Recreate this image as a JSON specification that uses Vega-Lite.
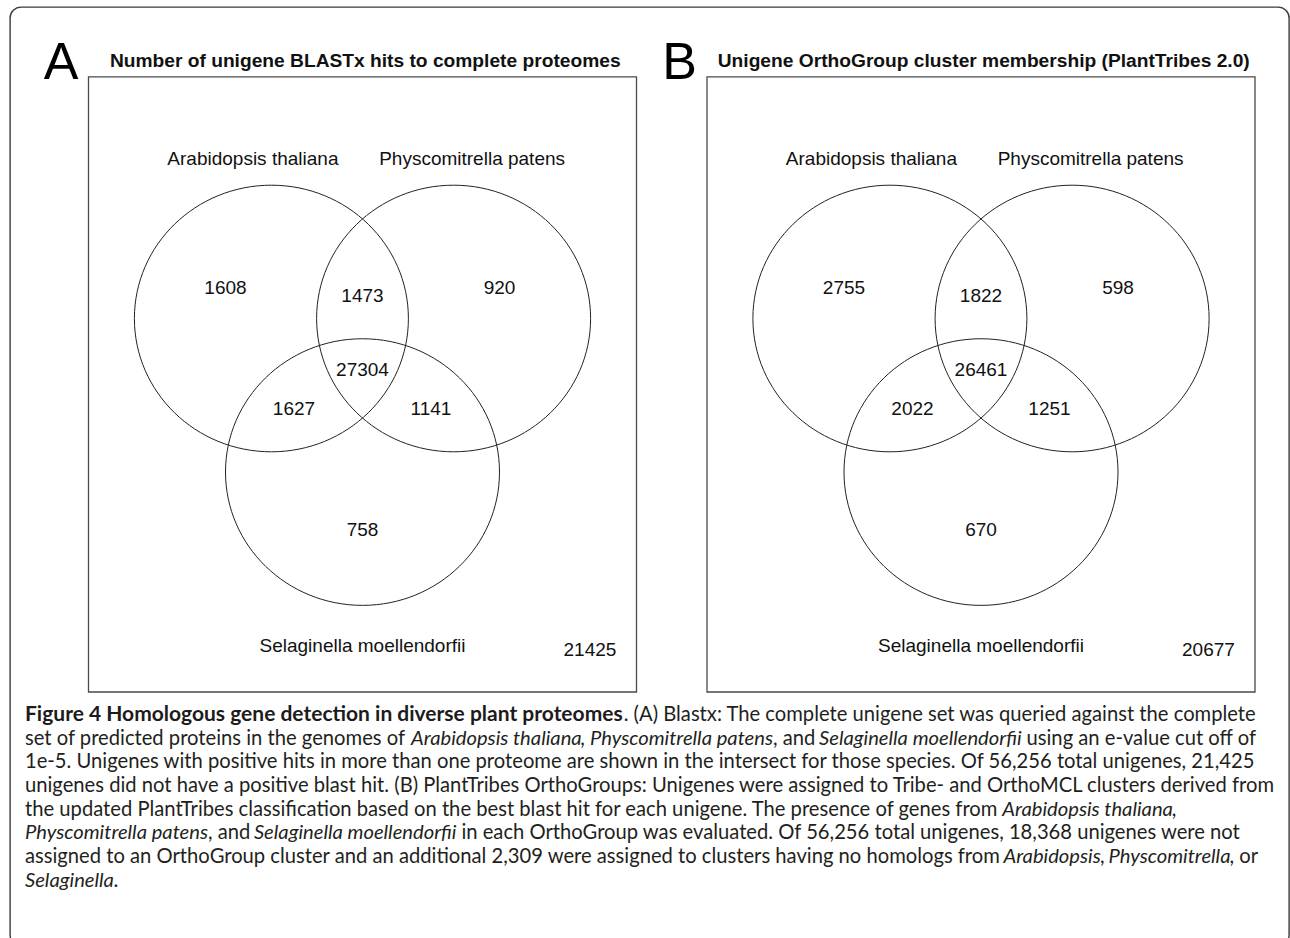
{
  "$schema": "https://vega.github.io/schema/vega-lite/v6.json",
  "autosize": "none",
  "width": 1279,
  "height": 939,
  "padding": {"left": 10, "top": 7, "right": 1, "bottom": -8},
  "background": "white",
  "config": {
    "view": {"stroke": "#3a3a3a", "strokeWidth": 1.4, "cornerRadius": 11},
    "text": {"font": "Liberation Sans"}
  },
  "datasets": {
    "panels": [
      {"panel": "A", "letter": "A", "title": "Number of unigene BLASTx hits to complete proteomes", "layout": "venn3"},
      {"panel": "B", "letter": "B", "title": "Unigene OrthoGroup cluster membership (PlantTribes 2.0)", "layout": "venn3"}
    ],
    "panelGeometry": [
      {"layout": "venn3", "boxU": -2.0, "boxV": 1.812, "boxU2": 2.0, "boxV2": -2.802, "letterU": -2.2, "letterV": 1.92, "titleU": 0.02, "titleV": 1.932}
    ],
    "sets": [
      {"panel": "A", "set": "Arabidopsis thaliana"},
      {"panel": "A", "set": "Physcomitrella patens"},
      {"panel": "A", "set": "Selaginella moellendorfii"},
      {"panel": "B", "set": "Arabidopsis thaliana"},
      {"panel": "B", "set": "Physcomitrella patens"},
      {"panel": "B", "set": "Selaginella moellendorfii"}
    ],
    "setGeometry": [
      {"set": "Arabidopsis thaliana", "centerU": -0.665, "centerV": 0, "labelU": -0.8, "labelV": 1.197},
      {"set": "Physcomitrella patens", "centerU": 0.665, "centerV": 0, "labelU": 0.8, "labelV": 1.197},
      {"set": "Selaginella moellendorfii", "centerU": 0, "centerV": -1.152, "labelU": 0, "labelV": -2.457}
    ],
    "counts": [
      {"panel": "A", "region": "Arabidopsis only", "count": 1608},
      {"panel": "A", "region": "Arabidopsis & Physcomitrella", "count": 1473},
      {"panel": "A", "region": "Physcomitrella only", "count": 920},
      {"panel": "A", "region": "all three", "count": 27304},
      {"panel": "A", "region": "Arabidopsis & Selaginella", "count": 1627},
      {"panel": "A", "region": "Physcomitrella & Selaginella", "count": 1141},
      {"panel": "A", "region": "Selaginella only", "count": 758},
      {"panel": "A", "region": "none", "count": 21425},
      {"panel": "B", "region": "Arabidopsis only", "count": 2755},
      {"panel": "B", "region": "Arabidopsis & Physcomitrella", "count": 1822},
      {"panel": "B", "region": "Physcomitrella only", "count": 598},
      {"panel": "B", "region": "all three", "count": 26461},
      {"panel": "B", "region": "Arabidopsis & Selaginella", "count": 2022},
      {"panel": "B", "region": "Physcomitrella & Selaginella", "count": 1251},
      {"panel": "B", "region": "Selaginella only", "count": 670},
      {"panel": "B", "region": "none", "count": 20677}
    ],
    "regionGeometry": [
      {"region": "Arabidopsis only", "regionU": -1.0, "regionV": 0.229},
      {"region": "Arabidopsis & Physcomitrella", "regionU": 0, "regionV": 0.169},
      {"region": "Physcomitrella only", "regionU": 1.0, "regionV": 0.229},
      {"region": "all three", "regionU": 0, "regionV": -0.386},
      {"region": "Arabidopsis & Selaginella", "regionU": -0.5, "regionV": -0.679},
      {"region": "Physcomitrella & Selaginella", "regionU": 0.5, "regionV": -0.679},
      {"region": "Selaginella only", "regionU": 0, "regionV": -1.587},
      {"region": "none", "regionU": 1.66, "regionV": -2.487}
    ],
    "caption": [
      {"line": 0, "kind": "heading", "start": 0, "text": "Figure 4 Homologous gene detection in diverse plant proteomes"},
      {"line": 0, "kind": "body", "start": 0.4778, "text": ". (A) Blastx: The complete unigene set was queried against the complete"},
      {"line": 1, "kind": "body", "start": 0, "text": "set of predicted proteins in the genomes of"},
      {"line": 1, "kind": "taxon", "start": 0.3081, "text": "Arabidopsis thaliana"},
      {"line": 1, "kind": "body", "start": 0.4432, "text": ","},
      {"line": 1, "kind": "taxon", "start": 0.4509, "text": "Physcomitrella patens"},
      {"line": 1, "kind": "body", "start": 0.597, "text": ", and"},
      {"line": 1, "kind": "taxon", "start": 0.6337, "text": "Selaginella moellendorfii"},
      {"line": 1, "kind": "body", "start": 0.7993, "text": "using an e-value cut off of"},
      {"line": 2, "kind": "body", "start": 0, "text": "1e-5. Unigenes with positive hits in more than one proteome are shown in the intersect for those species. Of 56,256 total unigenes, 21,425"},
      {"line": 3, "kind": "body", "start": 0, "text": "unigenes did not have a positive blast hit. (B) PlantTribes OrthoGroups: Unigenes were assigned to Tribe- and OrthoMCL clusters derived from"},
      {"line": 4, "kind": "body", "start": 0, "text": "the updated PlantTribes classification based on the best blast hit for each unigene. The presence of genes from"},
      {"line": 4, "kind": "taxon", "start": 0.78, "text": "Arabidopsis thaliana"},
      {"line": 4, "kind": "body", "start": 0.9152, "text": ","},
      {"line": 5, "kind": "taxon", "start": 0, "text": "Physcomitrella patens"},
      {"line": 5, "kind": "body", "start": 0.146, "text": ", and"},
      {"line": 5, "kind": "taxon", "start": 0.1827, "text": "Selaginella moellendorfii"},
      {"line": 5, "kind": "body", "start": 0.3483, "text": "in each OrthoGroup was evaluated. Of 56,256 total unigenes, 18,368 unigenes were not"},
      {"line": 6, "kind": "body", "start": 0, "text": "assigned to an OrthoGroup cluster and an additional 2,309 were assigned to clusters having no homologs from"},
      {"line": 6, "kind": "taxon", "start": 0.7809, "text": "Arabidopsis"},
      {"line": 6, "kind": "body", "start": 0.8579, "text": ","},
      {"line": 6, "kind": "taxon", "start": 0.8647, "text": "Physcomitrella"},
      {"line": 6, "kind": "body", "start": 0.9613, "text": ", or"},
      {"line": 7, "kind": "taxon", "start": 0, "text": "Selaginella"},
      {"line": 7, "kind": "body", "start": 0.0707, "text": "."}
    ]
  },
  "layer": [
    {
      "encoding": {
        "x": {"field": "u", "type": "quantitative", "scale": {"domain": [-2.573, 6.7628], "nice": false, "zero": false}, "axis": null},
        "y": {"field": "v", "type": "quantitative", "scale": {"domain": [-4.7074, 2.3368], "nice": false, "zero": false}, "axis": null}
      },
      "layer": [
        {
          "data": {"name": "panels"},
          "transform": [
            {"filter": "datum.panel === 'A'"},
            {"lookup": "layout", "from": {"data": {"name": "panelGeometry"}, "key": "layout", "fields": ["boxU", "boxV", "boxU2", "boxV2"]}, "as": ["u", "v", "u2", "v2"]}
          ],
          "mark": {"type": "rect", "fill": "transparent", "stroke": "#4a4a4a", "strokeWidth": 1.3},
          "encoding": {"x2": {"field": "u2"}, "y2": {"field": "v2"}}
        },
        {
          "data": {"name": "panels"},
          "transform": [
            {"filter": "datum.panel === 'A'"},
            {"lookup": "layout", "from": {"data": {"name": "panelGeometry"}, "key": "layout", "fields": ["letterU", "letterV"]}, "as": ["u", "v"]}
          ],
          "mark": {"type": "text", "align": "center", "baseline": "middle", "fontSize": 52, "color": "#000"},
          "encoding": {"text": {"field": "letter"}}
        },
        {
          "data": {"name": "panels"},
          "transform": [
            {"filter": "datum.panel === 'A'"},
            {"lookup": "layout", "from": {"data": {"name": "panelGeometry"}, "key": "layout", "fields": ["titleU", "titleV"]}, "as": ["u", "v"]}
          ],
          "mark": {"type": "text", "align": "center", "baseline": "middle", "fontSize": 19.2, "fontWeight": "bold", "color": "#111"},
          "encoding": {"text": {"field": "title"}}
        },
        {
          "data": {"name": "sets"},
          "transform": [
            {"filter": "datum.panel === 'A'"},
            {"lookup": "set", "from": {"data": {"name": "setGeometry"}, "key": "set", "fields": ["centerU", "centerV"]}, "as": ["u", "v"]}
          ],
          "mark": {"type": "point", "shape": "M-1,0A1,0.973,0,1,1,1,0A1,0.973,0,1,1,-1,0Z", "size": 75076, "filled": false, "stroke": "#222", "strokeWidth": 1, "opacity": 1}
        },
        {
          "data": {"name": "sets"},
          "transform": [
            {"filter": "datum.panel === 'A'"},
            {"lookup": "set", "from": {"data": {"name": "setGeometry"}, "key": "set", "fields": ["labelU", "labelV"]}, "as": ["u", "v"]}
          ],
          "mark": {"type": "text", "align": "center", "baseline": "middle", "fontSize": 19, "color": "#111"},
          "encoding": {"text": {"field": "set"}}
        },
        {
          "data": {"name": "counts"},
          "transform": [
            {"filter": "datum.panel === 'A'"},
            {"lookup": "region", "from": {"data": {"name": "regionGeometry"}, "key": "region", "fields": ["regionU", "regionV"]}, "as": ["u", "v"]}
          ],
          "mark": {"type": "text", "align": "center", "baseline": "middle", "fontSize": 19, "color": "#111"},
          "encoding": {"text": {"field": "count", "type": "quantitative", "format": "d"}}
        }
      ]
    },
    {
      "encoding": {
        "x": {"field": "u", "type": "quantitative", "scale": {"domain": [-7.0876, 2.2482], "nice": false, "zero": false}, "axis": null},
        "y": {"field": "v", "type": "quantitative", "scale": {"domain": [-4.7074, 2.3368], "nice": false, "zero": false}, "axis": null}
      },
      "layer": [
        {
          "data": {"name": "panels"},
          "transform": [
            {"filter": "datum.panel === 'B'"},
            {"lookup": "layout", "from": {"data": {"name": "panelGeometry"}, "key": "layout", "fields": ["boxU", "boxV", "boxU2", "boxV2"]}, "as": ["u", "v", "u2", "v2"]}
          ],
          "mark": {"type": "rect", "fill": "transparent", "stroke": "#4a4a4a", "strokeWidth": 1.3},
          "encoding": {"x2": {"field": "u2"}, "y2": {"field": "v2"}}
        },
        {
          "data": {"name": "panels"},
          "transform": [
            {"filter": "datum.panel === 'B'"},
            {"lookup": "layout", "from": {"data": {"name": "panelGeometry"}, "key": "layout", "fields": ["letterU", "letterV"]}, "as": ["u", "v"]}
          ],
          "mark": {"type": "text", "align": "center", "baseline": "middle", "fontSize": 52, "color": "#000"},
          "encoding": {"text": {"field": "letter"}}
        },
        {
          "data": {"name": "panels"},
          "transform": [
            {"filter": "datum.panel === 'B'"},
            {"lookup": "layout", "from": {"data": {"name": "panelGeometry"}, "key": "layout", "fields": ["titleU", "titleV"]}, "as": ["u", "v"]}
          ],
          "mark": {"type": "text", "align": "center", "baseline": "middle", "fontSize": 19.2, "fontWeight": "bold", "color": "#111"},
          "encoding": {"text": {"field": "title"}}
        },
        {
          "data": {"name": "sets"},
          "transform": [
            {"filter": "datum.panel === 'B'"},
            {"lookup": "set", "from": {"data": {"name": "setGeometry"}, "key": "set", "fields": ["centerU", "centerV"]}, "as": ["u", "v"]}
          ],
          "mark": {"type": "point", "shape": "M-1,0A1,0.973,0,1,1,1,0A1,0.973,0,1,1,-1,0Z", "size": 75076, "filled": false, "stroke": "#222", "strokeWidth": 1, "opacity": 1}
        },
        {
          "data": {"name": "sets"},
          "transform": [
            {"filter": "datum.panel === 'B'"},
            {"lookup": "set", "from": {"data": {"name": "setGeometry"}, "key": "set", "fields": ["labelU", "labelV"]}, "as": ["u", "v"]}
          ],
          "mark": {"type": "text", "align": "center", "baseline": "middle", "fontSize": 19, "color": "#111"},
          "encoding": {"text": {"field": "set"}}
        },
        {
          "data": {"name": "counts"},
          "transform": [
            {"filter": "datum.panel === 'B'"},
            {"lookup": "region", "from": {"data": {"name": "regionGeometry"}, "key": "region", "fields": ["regionU", "regionV"]}, "as": ["u", "v"]}
          ],
          "mark": {"type": "text", "align": "center", "baseline": "middle", "fontSize": 19, "color": "#111"},
          "encoding": {"text": {"field": "count", "type": "quantitative", "format": "d"}}
        }
      ]
    },
    {
      "data": {"name": "caption"},
      "encoding": {
        "x": {"field": "start", "type": "quantitative", "scale": {"domain": [-0.011971, 1.008779], "nice": false, "zero": false}, "axis": null},
        "y": {"field": "line", "type": "quantitative", "scale": {"domain": [-29.873, 9.747], "reverse": true, "nice": false, "zero": false}, "axis": null},
        "text": {"field": "text"}
      },
      "layer": [
        {
          "transform": [{"filter": "datum.kind === 'heading'"}],
          "mark": {"type": "text", "align": "left", "baseline": "middle", "font": "Lato", "fontSize": 21, "fontWeight": "bold", "color": "#1e1b1c"}
        },
        {
          "transform": [{"filter": "datum.kind === 'body'"}],
          "mark": {"type": "text", "align": "left", "baseline": "middle", "font": "Lato", "fontSize": 20.2, "color": "#231f20"}
        },
        {
          "transform": [{"filter": "datum.kind === 'taxon'"}],
          "mark": {"type": "text", "align": "left", "baseline": "middle", "font": "Lato", "fontSize": 20.2, "fontStyle": "italic", "color": "#231f20"}
        }
      ]
    }
  ],
  "resolve": {"scale": {"x": "independent", "y": "independent"}}
}
